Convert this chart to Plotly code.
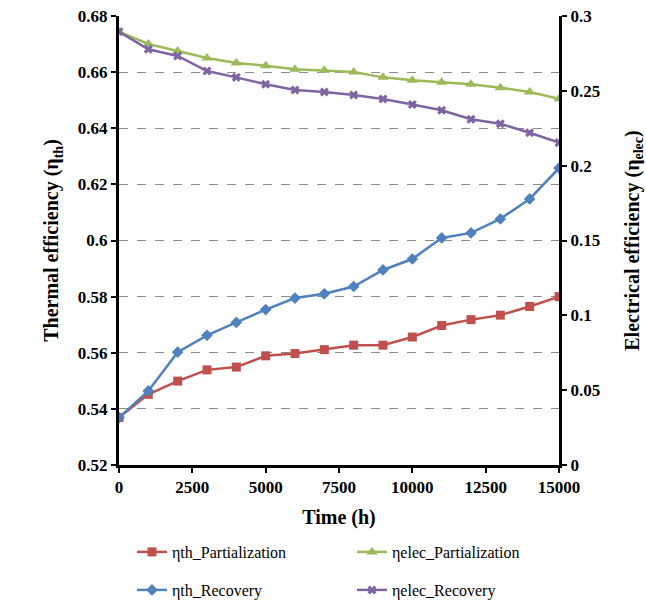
import plotly.graph_objects as go

time_h = [0, 1000, 2000, 3000, 4000, 5000, 6000, 7000, 8000, 9000, 10000, 11000, 12000, 13000, 14000, 15000]
eta_th_partialization = [0.5369, 0.5452, 0.5499, 0.5539, 0.5549, 0.5589, 0.5597, 0.5611, 0.5627, 0.5627,
                         0.5656, 0.5697, 0.5718, 0.5734, 0.5765, 0.5800]
eta_th_recovery = [0.5369, 0.5464, 0.5602, 0.5662, 0.5708, 0.5754, 0.5795, 0.5810, 0.5836, 0.5895,
                   0.5934, 0.6009, 0.6027, 0.6077, 0.6148, 0.6258]
eta_elec_partialization = [0.2895, 0.2813, 0.2766, 0.2719, 0.2686, 0.2668, 0.2644, 0.2637, 0.2626, 0.2590,
                           0.2570, 0.2557, 0.2544, 0.2521, 0.2492, 0.2447]
eta_elec_recovery = [0.2895, 0.2778, 0.2733, 0.2632, 0.2590, 0.2544, 0.2506, 0.2492, 0.2472, 0.2446,
                     0.2408, 0.2370, 0.2310, 0.2280, 0.2220, 0.2154]

x_ticks = [0, 2500, 5000, 7500, 10000, 12500, 15000]

FONT = "Liberation Serif"

fig = go.Figure()
fig.add_trace(go.Scatter(x=time_h, y=eta_th_partialization, name="ηth_Partialization",
                         mode="lines+markers", line=dict(color="#C0504D", width=2.5),
                         marker=dict(symbol="square", size=9, color="#C0504D"),
                         legend="legend", showlegend=True))
fig.add_trace(go.Scatter(x=time_h, y=eta_elec_partialization, name="ηelec_Partialization",
                         mode="lines+markers", line=dict(color="#9BBB59", width=2.5),
                         marker=dict(symbol="triangle-up", size=10, color="#9BBB59"),
                         yaxis="y2", legend="legend2", showlegend=True))
fig.add_trace(go.Scatter(x=time_h, y=eta_th_recovery, name="ηth_Recovery",
                         mode="lines+markers", line=dict(color="#4F81BD", width=2.5),
                         marker=dict(symbol="diamond", size=9, color="#4F81BD"),
                         legend="legend3", showlegend=True))
fig.add_trace(go.Scatter(x=time_h, y=eta_elec_recovery, name="ηelec_Recovery",
                         mode="lines+markers", line=dict(color="#8064A2", width=2.5),
                         marker=dict(symbol="x", size=8, color="#8064A2"),
                         yaxis="y2", legend="legend4", showlegend=True))

tickfont = dict(family=FONT, size=17, color="black", weight="bold")
titlefont = dict(family=FONT, size=20, color="black", weight="bold")
axis_common = dict(showline=True, linecolor="black", linewidth=3, ticks="outside",
                   ticklen=5, tickcolor="black", tickwidth=1.5, tickfont=tickfont,
                   automargin=False)

legend_common = dict(orientation="h", xanchor="left", yanchor="middle",
                     xref="container", yref="container",
                     font=dict(family=FONT, size=16, color="black"),
                     bgcolor="rgba(0,0,0,0)")

fig.update_layout(
    width=646, height=600,
    showlegend=True,
    margin=dict(l=119, r=87, t=16, b=135, autoexpand=False),
    plot_bgcolor="white", paper_bgcolor="white",
    xaxis=dict(range=[0, 15000], tickvals=x_ticks, showgrid=False, zeroline=False,
               title=dict(text="Time (h)", font=titlefont, standoff=14),
               tickformat="d", **axis_common),
    yaxis=dict(range=[0.52, 0.68], dtick=0.02, showgrid=True, gridcolor="#8c8c8c",
               griddash="dash", gridwidth=1, zeroline=False,
               title=dict(text="Thermal efficiency (η<sub>th</sub>)", font=titlefont, standoff=14),
               **axis_common),
    yaxis2=dict(range=[0, 0.3], dtick=0.05, overlaying="y", side="right", showgrid=False,
                zeroline=False,
                title=dict(text="Electrical efficiency (η<sub>elec</sub>)", font=titlefont, standoff=27),
                **axis_common),
    legend=dict(x=132 / 646, y=(600 - 552) / 600, **legend_common),
    legend2=dict(x=352 / 646, y=(600 - 552) / 600, **legend_common),
    legend3=dict(x=132 / 646, y=(600 - 590) / 600, **legend_common),
    legend4=dict(x=352 / 646, y=(600 - 590) / 600, **legend_common),
    font=dict(family=FONT, color="black"),
)

fig.write_html("out.html", config={"displayModeBar": False},
               post_script="document.body.style.margin='0px';document.body.style.overflow='hidden';")
